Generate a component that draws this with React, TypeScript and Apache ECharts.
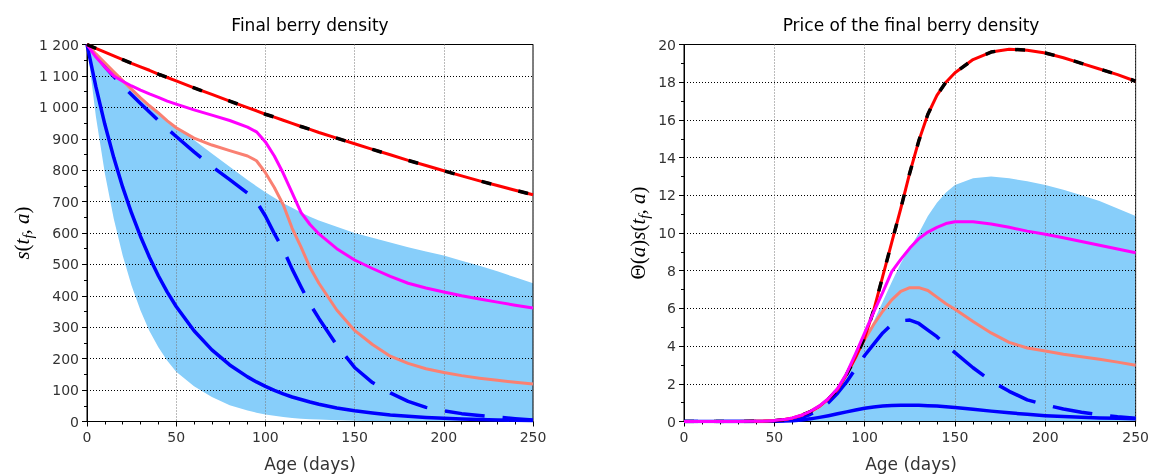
import React, { useEffect, useRef } from "react";
import * as echarts from "echarts";

// ---------- Left chart: final berry density ----------
const leftAges = [0, 5, 10, 15, 20, 25, 30, 35, 40, 45, 50, 60, 70, 80, 90, 95, 100, 105, 110, 115, 120, 125, 130, 140, 150, 160, 170, 180, 190, 200, 210, 220, 230, 240, 250];
const leftRed = [1200, 1188, 1176, 1164, 1152, 1140, 1129, 1118, 1106, 1095, 1084, 1062, 1041, 1020, 999, 989, 978, 969, 959, 949, 939, 930, 920, 902, 884, 866, 849, 831, 815, 798, 782, 766, 751, 736, 722];
const leftMagenta = [1200, 1160, 1128, 1100, 1083, 1068, 1055, 1043, 1032, 1020, 1010, 992, 975, 958, 937, 922, 890, 845, 790, 728, 665, 627, 597, 550, 514, 487, 462, 440, 425, 412, 400, 390, 380, 370, 361];
const leftSalmon = [1200, 1170, 1142, 1113, 1085, 1057, 1030, 1005, 982, 957, 935, 902, 880, 862, 845, 830, 792, 745, 690, 615, 555, 490, 440, 355, 290, 245, 208, 185, 168, 156, 146, 138, 131, 125, 119];
const leftBlueDashed = [1200, 1165, 1130, 1098, 1068, 1040, 1012, 985, 958, 932, 907, 858, 812, 770, 727, 700, 654, 598, 548, 485, 428, 374, 328, 243, 172, 124, 91, 64, 45, 34, 25, 19, 14, 9, 5];
const leftBlueSolid = [1200, 1065, 946, 840, 746, 663, 589, 523, 464, 412, 366, 289, 228, 180, 142, 126, 112, 99, 88, 78, 70, 62, 55, 43, 34, 27, 21, 17, 13, 10, 8, 6, 5, 4, 3];
const leftBandLow = [1200, 970, 790, 645, 528, 432, 353, 288, 236, 193, 158, 112, 78, 52, 35, 28, 22, 18, 14, 11, 9, 7, 6, 4, 2, 1, 0.5, 0, 0, 0, 0, 0, 0, 0, 0];
const leftBandHigh = [1200, 1170, 1140, 1110, 1080, 1052, 1025, 1000, 978, 958, 939, 896, 853, 811, 769, 749, 730, 712, 695, 680, 665, 652, 640, 620, 600, 585, 570, 555, 541, 528, 512, 496, 478, 459, 440];

// ---------- Right chart: price of the final berry density ----------
const rightAges = [0, 10, 20, 30, 40, 45, 50, 55, 60, 65, 70, 75, 80, 85, 90, 95, 100, 105, 110, 115, 120, 125, 130, 135, 140, 145, 150, 160, 170, 180, 190, 200, 210, 220, 230, 240, 250];
const rightRed = [0, 0, 0, 0, 0.01, 0.02, 0.04, 0.09, 0.18, 0.32, 0.52, 0.8, 1.2, 1.7, 2.5, 3.4, 4.45, 5.9, 7.7, 9.5, 11.3, 13.2, 14.9, 16.3, 17.3, 18.0, 18.5, 19.2, 19.6, 19.75, 19.7, 19.55, 19.3, 19.0, 18.7, 18.4, 18.05];
const rightMagenta = [0, 0, 0, 0, 0.01, 0.02, 0.05, 0.1, 0.19, 0.33, 0.54, 0.83, 1.22, 1.75, 2.55, 3.6, 4.7, 5.8, 6.85, 7.95, 8.6, 9.2, 9.7, 10.05, 10.3, 10.5, 10.6, 10.6, 10.48, 10.3, 10.1, 9.93, 9.75, 9.55, 9.35, 9.15, 8.95];
const rightSalmon = [0, 0, 0, 0, 0.01, 0.02, 0.05, 0.1, 0.19, 0.33, 0.54, 0.83, 1.2, 1.72, 2.5, 3.45, 4.35, 5.15, 5.85, 6.45, 6.9, 7.1, 7.1, 6.95, 6.6, 6.25, 5.95, 5.3, 4.7, 4.2, 3.9, 3.74, 3.57, 3.43, 3.3, 3.15, 2.98];
const rightBlueDashed = [0, 0, 0, 0, 0.005, 0.01, 0.02, 0.05, 0.1, 0.2, 0.38, 0.65, 1.0, 1.5, 2.1, 2.8, 3.5, 4.1, 4.7, 5.15, 5.35, 5.38, 5.2, 4.85, 4.5, 4.05, 3.65, 2.85, 2.15, 1.6, 1.15, 0.88, 0.66, 0.49, 0.36, 0.25, 0.17];
const rightBlueSolid = [0, 0, 0, 0, 0, 0.005, 0.01, 0.02, 0.04, 0.08, 0.14, 0.22, 0.31, 0.41, 0.51, 0.61, 0.7, 0.77, 0.82, 0.85, 0.86, 0.86, 0.86, 0.84, 0.82, 0.78, 0.74, 0.65, 0.55, 0.46, 0.38, 0.31, 0.26, 0.22, 0.19, 0.17, 0.15];
const rightBandLow = [0, 0, 0, 0, 0, 0, 0, 0, 0, 0, 0, 0, 0, 0, 0, 0, 0, 0, 0, 0, 0, 0, 0, 0, 0, 0, 0, 0, 0, 0, 0, 0, 0, 0, 0, 0, 0];
const rightBandHigh = [0, 0, 0, 0, 0.005, 0.01, 0.03, 0.06, 0.12, 0.24, 0.42, 0.7, 1.1, 1.65, 2.4, 3.3, 4.3, 5.3, 6.35, 7.4, 8.4, 9.2, 10.0, 10.9, 11.6, 12.15, 12.55, 12.9, 13.0, 12.9, 12.75, 12.55, 12.3, 12.0, 11.7, 11.3, 10.9];

const titles = ["Final berry density", "Price of the final berry density"];
const xName = "Age (days)";

const pairs = (xs: number[], ys: number[]) => xs.map((x, i) => [x, ys[i]]);

const bandSeries = (idx: number, xs: number[], lo: number[], hi: number[]) => ({
  type: "custom",
  xAxisIndex: idx,
  yAxisIndex: idx,
  z: 0,
  silent: true,
  data: [[xs[0], lo[0]]],
  renderItem: (_p: any, api: any) => {
    const pts: number[][] = [];
    for (let i = 0; i < xs.length; i++) pts.push(api.coord([xs[i], hi[i]]));
    for (let i = xs.length - 1; i >= 0; i--) pts.push(api.coord([xs[i], lo[i]]));
    return { type: "polygon", shape: { points: pts, smooth: 0 }, style: { fill: "#87cefa", stroke: null } };
  },
});

const lineSeries = (idx: number, xs: number[], ys: number[], color: string, width: number, type: any = "solid", offset = 0) => ({
  type: "line",
  xAxisIndex: idx,
  yAxisIndex: idx,
  data: pairs(xs, ys),
  symbol: "none",
  smooth: false,
  z: 2,
  silent: true,
  lineStyle: { color, width, type, dashOffset: offset, cap: "butt", join: "round" },
});

const fmtThousands = (v: number) => {
  if (v >= 1000) {
    const th = Math.floor(v / 1000);
    const r = String(v % 1000).padStart(3, "0");
    return `${th} ${r}`;
  }
  return String(v);
};

const xAxisCommon = (idx: number) => ({
  type: "value",
  gridIndex: idx,
  min: 0,
  max: 250,
  interval: 50,
  z: 1,
  axisLine: { show: true, onZero: false, lineStyle: { color: "#000", width: 1 } },
  axisTick: { show: true, length: 5, lineStyle: { color: "#000" } },
  minorTick: { show: true, splitNumber: 5, length: 3, lineStyle: { color: "#000" } },
  axisLabel: { color: "#333", fontSize: 14, fontFamily: "DejaVu Sans", margin: 8 },
  splitLine: { show: true, lineStyle: { color: "#777", width: 1, type: [1, 2] } },
});

const yAxisCommon = (idx: number, max: number, interval: number, fmt?: (v: number) => string) => ({
  type: "value",
  gridIndex: idx,
  min: 0,
  max,
  interval,
  z: 1,
  axisLine: { show: true, onZero: false, lineStyle: { color: "#000", width: 1 } },
  axisTick: { show: true, length: 5, lineStyle: { color: "#000" } },
  minorTick: { show: true, splitNumber: 2, length: 3, lineStyle: { color: "#000" } },
  axisLabel: { color: "#333", fontSize: 14, fontFamily: "DejaVu Sans", margin: 8, formatter: fmt },
  splitLine: { show: true, lineStyle: { color: "#000", width: 1, type: [1, 2] } },
});

const mathRich = {
  i: { fontFamily: "Liberation Serif", fontStyle: "italic", fontSize: 21, lineHeight: 26, fill: "#000" },
  n: { fontFamily: "Liberation Serif", fontSize: 21, lineHeight: 26, fill: "#000" },
  sub: { fontFamily: "Liberation Serif", fontStyle: "italic", fontSize: 15, lineHeight: 15, verticalAlign: "bottom", fill: "#000" },
};

export default function App() {
  const ref = useRef<HTMLDivElement>(null);
  useEffect(() => {
    const chart = echarts.init(ref.current!, null, { renderer: "svg" });
    const option: any = {
      animation: false,
      grid: [
        { left: 87, top: 44.5, width: 446, height: 377, show: true, borderColor: "#000", borderWidth: 1, backgroundColor: "transparent", z: 1 },
        { left: 684, top: 44.5, width: 454, height: 377, show: true, borderColor: "#000", borderWidth: 1, backgroundColor: "transparent", z: 1 },
      ],
      xAxis: [xAxisCommon(0), xAxisCommon(1)],
      yAxis: [yAxisCommon(0, 1200, 100, fmtThousands), yAxisCommon(1, 20, 2)],
      series: [
        bandSeries(0, leftAges, leftBandLow, leftBandHigh),
        lineSeries(0, leftAges, leftBlueSolid, "#0000ff", 3.5),
        lineSeries(0, leftAges, leftBlueDashed, "#0000ff", 3.5, [40, 18], 53),
        lineSeries(0, leftAges, leftSalmon, "#fa8072", 3),
        lineSeries(0, leftAges, leftMagenta, "#ff00ff", 3),
        lineSeries(0, leftAges, leftRed, "#ff0000", 3),
        lineSeries(0, leftAges, leftRed, "#000000", 3.5, [10, 28], 0),
        bandSeries(1, rightAges, rightBandLow, rightBandHigh),
        lineSeries(1, rightAges, rightBlueSolid, "#0000ff", 3.5),
        lineSeries(1, rightAges, rightBlueDashed, "#0000ff", 3.5, [40, 18], 26),
        lineSeries(1, rightAges, rightSalmon, "#fa8072", 3),
        lineSeries(1, rightAges, rightRed, "#ff0000", 3),
        lineSeries(1, rightAges, rightRed, "#000000", 3.5, [10, 20], 0),
        lineSeries(1, rightAges, rightMagenta, "#ff00ff", 3),
      ],
      graphic: [
        { type: "text", x: 310, y: 25, style: { text: titles[0], fontFamily: "DejaVu Sans", fontSize: 17, fill: "#000", align: "center", verticalAlign: "middle" } },
        { type: "text", x: 911, y: 25, style: { text: titles[1], fontFamily: "DejaVu Sans", fontSize: 17, fill: "#000", align: "center", verticalAlign: "middle" } },
        { type: "text", x: 310, y: 464, style: { text: xName, fontFamily: "DejaVu Sans", fontSize: 17, fill: "#333", align: "center", verticalAlign: "middle" } },
        { type: "text", x: 911, y: 464, style: { text: xName, fontFamily: "DejaVu Sans", fontSize: 17, fill: "#333", align: "center", verticalAlign: "middle" } },
        {
          type: "text", x: 22, y: 233, rotation: Math.PI / 2,
          style: { text: "{i|s}{n|(}{i|t}{sub|f}{n|, }{i|a}{n|)}", rich: mathRich, align: "center", verticalAlign: "middle" },
        },
        {
          type: "text", x: 638, y: 233, rotation: Math.PI / 2,
          style: { text: "{n|Θ(}{i|a}{n|)}{i|s}{n|(}{i|t}{sub|f}{n|, }{i|a}{n|)}", rich: mathRich, align: "center", verticalAlign: "middle" },
        },
      ],
    };
    chart.setOption(option);
    return () => chart.dispose();
  }, []);
  return <div ref={ref} style={{ position: "fixed", left: 0, top: 0, width: 1152, height: 475 }} />;
}
